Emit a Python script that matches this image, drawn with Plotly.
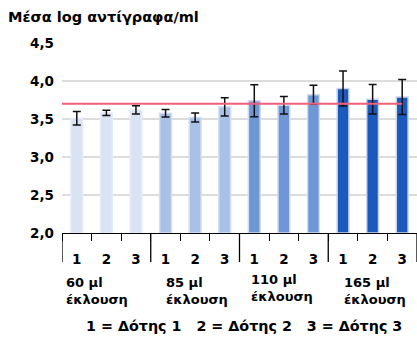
import plotly.graph_objects as go

# ---- data ----
groups = ["60 μl<br>έκλουση", "85 μl<br>έκλουση", "110 μl<br>έκλουση", "165 μl<br>έκλουση"]
donors = ["1", "2", "3"]
means = [3.51, 3.58, 3.62, 3.575, 3.52, 3.66, 3.74, 3.68, 3.82, 3.90, 3.76, 3.79]
errors = [0.09, 0.035, 0.055, 0.05, 0.06, 0.12, 0.21, 0.115, 0.125, 0.23, 0.195, 0.23]
threshold = 3.7
y_ticks = [2.0, 2.5, 3.0, 3.5, 4.0, 4.5]
y_ticktext = ["2,0", "2,5", "3,0", "3,5", "4,0", "4,5"]
title_text = "Μέσα log αντίγραφα/ml"
legend_items = ["1 = Δότης 1", "2 = Δότης 2", "3 = Δότης 3"]

group_colors = ["#dae3f3", "#a9c1e7", "#6f97d5", "#1b59bd"]
group_lines = ["#e6ecf7", "#d3def2", "#d0dcf0", "#c9d6ee"]
FONT = "DejaVu Sans"

n = len(means)
xs = list(range(n))
ticklabels = [donors[i % 3] for i in xs]
colors = [group_colors[i // 3] for i in xs]
lines = [group_lines[i // 3] for i in xs]

fig = go.Figure()
fig.add_trace(go.Bar(
    x=xs, y=[m - y_ticks[0] for m in means], base=y_ticks[0],
    width=0.4,
    marker=dict(color=colors, line=dict(color=lines, width=1.5)),
    error_y=dict(type="data", array=errors, color="#111111", thickness=1.5, width=4),
    showlegend=False, hoverinfo="skip",
))

# reference line
fig.add_shape(type="line", xref="x", yref="y", x0=-0.5, x1=xs[-1], y0=threshold, y1=threshold,
              line=dict(color="#f0607a", width=2))

# long separators between groups
for g in range(len(groups) + 1):
    fig.add_shape(type="line", xref="x", yref="paper", x0=g * 3 - 0.5, x1=g * 3 - 0.5,
                  y0=0, y1=-29 / 190, line=dict(color="black", width=1.3))

# group labels
shifts = [2, 13, 9, 14]
yoffs = [-0.305, -0.305, -0.29, -0.305]
for g, lab in enumerate(groups):
    fig.add_annotation(x=g * 3 - 0.5, xref="x", y=yoffs[g], yref="paper", text=lab,
                       xanchor="left", yanchor="middle", align="left", xshift=shifts[g],
                       showarrow=False,
                       font=dict(family=FONT, size=13, color="black", weight="bold"))

sep = "&nbsp;&nbsp;&nbsp;"
fig.add_annotation(x=0.473, xref="paper", y=-0.489, yref="paper", text=sep.join(legend_items),
                   xanchor="center", yanchor="middle", showarrow=False, xshift=14,
                   font=dict(family=FONT, size=14.3, color="black", weight="bold"))

fig.update_layout(
    width=417, height=339,
    margin=dict(l=62, r=0, t=43, b=106),
    plot_bgcolor="white", paper_bgcolor="white",
    font=dict(family=FONT, color="black", weight="bold"),
    title=dict(text=title_text, xref="container", yref="container", x=8 / 417, xanchor="left",
               y=1 - 17 / 339, yanchor="middle",
               font=dict(family=FONT, size=14.5, color="black", weight="bold")),
    xaxis=dict(range=[-0.5, n - 0.5], tickmode="array", tickvals=xs, ticktext=ticklabels,
               ticks="", showline=True, linecolor="black", linewidth=1.3, showgrid=False,
               zeroline=False, ticklabelstandoff=14, automargin=False,
               tickfont=dict(family=FONT, size=13.5, color="black", weight="bold"),
               minor=dict(tickmode="array", tickvals=[i - 0.5 for i in range(n + 1)], ticks="outside",
                          ticklen=7, tickcolor="black", tickwidth=1.3, showgrid=False)),
    yaxis=dict(range=[y_ticks[0], y_ticks[-1]], tickmode="array", tickvals=y_ticks, ticktext=y_ticktext,
               showgrid=True, gridcolor="#dcdcdc", gridwidth=1.5, zeroline=False, showline=False,
               ticks="", ticklabelstandoff=7, automargin=False,
               tickfont=dict(family=FONT, size=13.5, color="black", weight="bold")),
)

fig.write_html("out.html", config={"displayModeBar": False},
               post_script="document.body.style.margin='0';")
